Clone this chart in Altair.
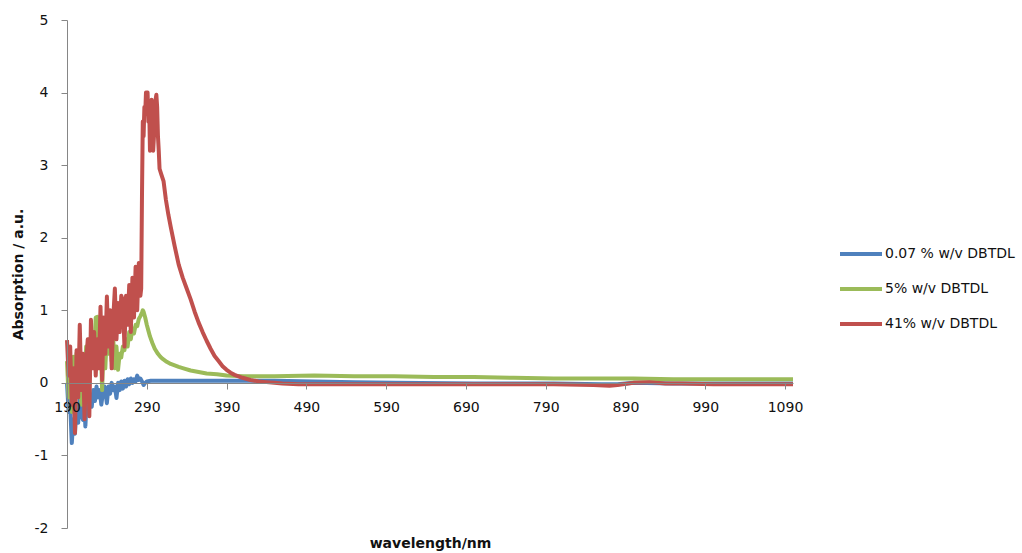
import altair as alt
import pandas as pd

# Series names (legend order)
SERIES = ["0.07 % w/v DBTDL", "5% w/v DBTDL", "41% w/v DBTDL"]
COLORS = ["#4F81BD", "#9BBB59", "#C0504D"]

# 0.07 % w/v DBTDL
blue_wl = [190, 192, 194, 196, 198, 200, 202, 204, 206, 208, 210, 212, 213, 215, 217,
           219, 221, 223, 225, 227, 229, 231, 233, 235, 237, 239, 240, 242, 244, 246,
           248, 250, 252, 254, 256, 258, 260, 262, 264, 266, 268, 270, 272, 274, 276,
           278, 280, 282, 284, 286, 288, 290, 295, 300, 350, 400, 450, 500, 550, 600,
           700, 800, 860, 880, 900, 950, 1000, 1050, 1100]
blue_abs = [0.0, -0.4, -0.3, -0.83, -0.5, -0.7, -0.3, -0.55, -0.2, -0.45, -0.51, -0.3,
            -0.6, -0.2, -0.4, -0.25, -0.33, -0.1, -0.25, -0.05, -0.2, -0.1, -0.3, -0.14,
            -0.05, -0.2, -0.28, -0.05, -0.15, 0.0, -0.1, -0.05, -0.21, 0.0, -0.1, 0.02,
            -0.08, 0.03, -0.05, 0.05, -0.02, 0.06, 0.0, 0.05, 0.02, 0.1, 0.04, 0.06, 0.02,
            -0.03, 0.0, 0.02, 0.03, 0.03, 0.03, 0.03, 0.03, 0.02, 0.01, 0.0, -0.01, -0.01,
            -0.02, -0.02, 0.0, -0.01, -0.01, -0.01, -0.01]

# 5% w/v DBTDL
green_wl = [190, 192, 194, 196, 198, 200, 202, 204, 206, 208, 210, 212, 214, 216, 218,
            220, 222, 224, 226, 228, 230, 232, 234, 236, 238, 240, 242, 244, 246, 248,
            250, 252, 254, 256, 258, 260, 262, 264, 266, 268, 270, 272, 274, 276, 278,
            280, 282, 284, 285, 286, 288, 290, 292, 294, 297, 300, 304, 307, 310, 315,
            320, 325, 330, 336, 345, 355, 365, 378, 390, 411, 450, 500, 550, 600, 650,
            700, 750, 800, 850, 900, 950, 1000, 1050, 1100]
green_abs = [0.3, -0.2, 0.1, -0.4, 0.36, -0.2, 0.41, 0.0, 0.3, -0.3, 0.35, 0.0, 0.5,
             0.1, 0.6, 0.2, 0.7, 0.4, 0.9, 0.91, 0.3, 0.7, -0.1, 0.6, 0.2, 0.7, 0.4, 0.73,
             0.3, 0.6, 0.2, 0.5, 0.18, 0.4, 0.35, 0.5, 0.45, 0.6, 0.5, 0.7, 0.6, 0.75,
             0.68, 0.8, 0.78, 0.88, 0.92, 0.97, 1.0, 0.98, 0.9, 0.8, 0.72, 0.64, 0.55,
             0.47, 0.4, 0.36, 0.33, 0.29, 0.26, 0.24, 0.22, 0.2, 0.17, 0.15, 0.13, 0.12,
             0.1, 0.09, 0.09, 0.1, 0.09, 0.09, 0.08, 0.08, 0.07, 0.06, 0.06, 0.06, 0.05,
             0.05, 0.05, 0.05]

# 41% w/v DBTDL
red_wl = [190, 192, 194, 196, 198, 200, 202, 204, 206, 208, 210, 212, 214, 216, 218,
          220, 222, 224, 226, 228, 230, 232, 234, 236, 238, 240, 242, 244, 246, 248,
          250, 252, 254, 256, 258, 260, 262, 264, 266, 268, 270, 272, 274, 276, 278,
          280, 282, 283, 284, 285, 286, 287, 288, 289, 290, 291, 292, 293, 294, 295,
          296, 297, 298, 299, 300, 301, 302, 303, 304, 305, 306, 308, 311, 314, 317,
          320, 325, 330, 335, 340, 345, 350, 355, 360, 365, 370, 375, 380, 385, 390,
          395, 400, 410, 420, 430, 440, 450, 460, 480, 500, 550, 600, 650, 700, 750,
          800, 850, 870, 880, 900, 920, 940, 960, 1000, 1050, 1100]
red_abs = [0.59, 0.1, 0.5, -0.3, 0.2, -0.69, 0.45, -0.2, 0.8, -0.1, 0.4, -0.5, 0.3,
           0.6, -0.46, 0.87, 0.2, 0.7, 0.1, 0.6, 0.2, 1.05, 0.04, 0.9, 0.4, 1.19, 0.5,
           1.0, 0.2, 0.9, 1.3, 0.6, 1.1, 0.7, 1.2, 1.14, 0.5, 1.2, 0.8, 1.35, 0.7, 1.45,
           0.9, 1.6, 1.0, 1.65, 1.2, 1.3, 2.6, 3.6, 3.4, 3.8, 3.7, 4.0, 3.9, 4.0, 3.6,
           3.8, 3.2, 3.5, 3.9, 3.5, 3.2, 3.4, 3.7, 3.9, 3.97, 3.8, 3.4, 3.2, 2.95, 2.88,
           2.78, 2.52, 2.32, 2.15, 1.88, 1.63, 1.45, 1.3, 1.15, 0.98, 0.83, 0.7, 0.58, 0.47,
           0.37, 0.3, 0.23, 0.18, 0.14, 0.11, 0.07, 0.04, 0.02, 0.01, 0.0, -0.01, -0.02,
           -0.02, -0.02, -0.02, -0.02, -0.02, -0.02, -0.02, -0.03, -0.04, -0.03, 0.0,
           0.01, -0.01, -0.01, -0.02, -0.02, -0.02]

# Axis tick values
x_ticks = [190, 290, 390, 490, 590, 690, 790, 890, 990, 1090]
y_ticks = [-2, -1, 0, 1, 2, 3, 4, 5]

frames = []
for name, wl, ab in zip(SERIES, [blue_wl, green_wl, red_wl], [blue_abs, green_abs, red_abs]):
    frames.append(pd.DataFrame({"wavelength": wl, "absorption": ab, "series": name}))

FONT = "DejaVu Sans"
AXIS_GREY = "#868686"

x_enc = alt.X(
    "wavelength:Q",
    scale=alt.Scale(domain=[190, 1100], nice=False, zero=False),
    axis=alt.Axis(
        values=x_ticks, labelExpr="toString(datum.value)", grid=False, offset=-145,
        domainColor=AXIS_GREY, tickColor=AXIS_GREY, tickSize=6, zindex=1,
        labelFont=FONT, labelFontSize=14, labelColor="#111", labelPadding=11,
        labelFlush=False, labelOverlap=False,
        title="wavelength/nm", titleFont=FONT, titleFontSize=14,
        titleFontWeight="bold", titleColor="#111", titleY=160,
        titleBaseline="middle",
    ),
)
y_enc = alt.Y(
    "absorption:Q",
    scale=alt.Scale(domain=[-2, 5], nice=False, zero=False),
    axis=alt.Axis(
        values=y_ticks, labelExpr="toString(datum.value)", grid=False, zindex=1,
        domainColor=AXIS_GREY, tickColor=AXIS_GREY, tickSize=6,
        labelFont=FONT, labelFontSize=14, labelColor="#111", labelPadding=13,
        labelFlush=False,
        title="Absorption / a.u.", titleFont=FONT, titleFontSize=14,
        titleFontWeight="bold", titleColor="#111", titleX=-49,
        titleBaseline="middle",
    ),
)
color_enc = alt.Color(
    "series:N",
    scale=alt.Scale(domain=SERIES, range=COLORS),
    legend=alt.Legend(
        title=None, orient="none", legendX=771, legendY=224,
        symbolType="stroke", symbolSize=1764, symbolStrokeWidth=4,
        labelFont=FONT, labelFontSize=14, labelColor="#111", labelOffset=1,
        clipHeight=20, rowPadding=15, padding=0,
    ),
)

layers = [
    alt.Chart(df).mark_line(strokeWidth=4, strokeJoin="round").encode(
        x=x_enc, y=y_enc, color=color_enc
    )
    for df in frames
]

chart = (
    alt.layer(*layers)
    .properties(
        width=726,
        height=508,
        autosize=alt.AutoSizeParams(type="none"),
        padding={"left": 67, "top": 20, "right": 229, "bottom": 25},
        background="white",
    )
    .configure_view(stroke=None)
)

chart.save("out.html", embed_options={"renderer": "svg", "actions": False})
